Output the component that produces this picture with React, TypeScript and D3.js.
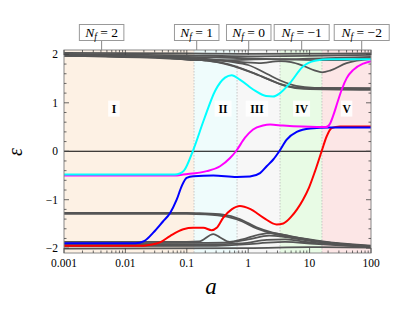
import * as d3 from 'd3';

// regions along a
const regionEdges = [0.001, 0.131, 0.658, 3.3, 15.9, 100];
const regionNames = ['I', 'II', 'III', 'IV', 'V'];
const regionColors = ['#fdf1e4', '#effcfc', '#f7f7f7', '#e8fbe5', '#fce6e6'];
const regionLabelA = [0.0065, 0.39, 1.39, 7.4, 40];
const regionLabelEps = 0.88;

// N_f boxes above the frame
const nfValues = ['2', '1', '0', '−1', '−2'];
const nfA = [0.0041, 0.145, 1.02, 7.43, 70.6];

const xTicks = [0.001, 0.01, 0.1, 1, 10, 100];
const xTickLabels = ['0.001', '0.01', '0.1', '1', '10', '100'];
const yTicks = [-2, -1, 0, 1, 2];
const yTickLabels = ['−2', '−1', '0', '1', '2'];

type Pt = [number, number];

const cyan: Pt[] = [[0.001, -0.48], [0.064, -0.48], [0.077, -0.46], [0.09, -0.4], [0.125, 0], [0.19, 0.65], [0.29, 1.25], [0.42, 1.52], [0.54, 1.57], [0.73, 1.48], [1.29, 1.25], [1.95, 1.14], [2.53, 1.13], [3.3, 1.2], [4.8, 1.41], [7.8, 1.75], [12.2, 1.87], [21.5, 1.9], [100, 1.9]];
const magenta: Pt[] = [[0.001, -0.5], [0.064, -0.5], [0.087, -0.48], [0.211, -0.41], [0.348, -0.31], [0.506, -0.14], [0.632, 0], [0.887, 0.28], [1.2, 0.45], [1.74, 0.53], [2.27, 0.55], [3.69, 0.53], [13.1, 0.5], [18.5, 0.5], [21.5, 0.57], [24.3, 0.74], [28.3, 1.0], [33.3, 1.27], [40.2, 1.51], [51.5, 1.68], [75, 1.81], [100, 1.86]];
const blue: Pt[] = [[0.001, -1.9], [0.0145, -1.9], [0.0205, -1.85], [0.0284, -1.68], [0.0409, -1.45], [0.0532, -1.28], [0.0684, -1.0], [0.0826, -0.72], [0.0995, -0.55], [0.128, -0.515], [0.27, -0.5], [0.65, -0.53], [1.07, -0.52], [1.56, -0.45], [2.0, -0.31], [2.56, -0.17], [3.21, 0], [4.24, 0.24], [6.17, 0.4], [10.2, 0.47], [21.5, 0.49], [100, 0.49]];
const red: Pt[] = [[0.001, -1.95], [0.02, -1.95], [0.0252, -1.93], [0.0366, -1.88], [0.0532, -1.75], [0.0877, -1.61], [0.128, -1.58], [0.186, -1.58], [0.254, -1.63], [0.307, -1.58], [0.393, -1.37], [0.538, -1.2], [0.734, -1.13], [1.07, -1.19], [1.76, -1.37], [2.91, -1.51], [3.73, -1.49], [5.11, -1.34], [6.24, -1.2], [7.81, -1.0], [9.78, -0.75], [12.2, -0.42], [15.7, 0], [19.0, 0.31], [22.9, 0.48], [31.3, 0.51], [100, 0.51]];

const grayLines: Pt[][] = [
  // near the top
  [[0.001, 2.03], [0.1, 2.02], [1, 2.01], [100, 2.02]],
  [[0.001, 2.01], [0.1, 1.98], [1, 1.96], [10, 1.97], [100, 1.99]],
  [[0.001, 1.99], [0.1, 1.95], [0.5, 1.93], [3, 1.9], [20, 1.92], [100, 1.95]],
  [[0.001, 1.97], [0.01, 1.96], [0.05, 1.93], [0.13, 1.88], [0.5, 1.88], [2, 1.9], [6, 1.89], [30, 1.88], [100, 1.93]],
  [[0.001, 1.98], [0.13, 1.91], [0.5, 1.86], [1.5, 1.82], [3.3, 1.86], [5, 1.84], [8, 1.76], [12, 1.67], [16, 1.63], [22, 1.67], [40, 1.82], [100, 1.9]],
  [[0.001, 1.98], [0.13, 1.9], [0.21, 1.87], [0.31, 1.84], [1.07, 1.64], [2.0, 1.5], [3.7, 1.37], [7, 1.31], [16, 1.3], [100, 1.29]],
  [[0.001, 1.97], [0.13, 1.89], [0.25, 1.86], [0.4, 1.82], [1.2, 1.62], [2.2, 1.48], [4, 1.35], [8, 1.29], [100, 1.27]],
  [[0.001, 1.99], [0.13, 1.92], [0.5, 1.85], [1.0, 1.78], [2.0, 1.6], [3.5, 1.45], [6, 1.35], [12, 1.31], [100, 1.3]],
  // -1.3 band
  [[0.001, -1.27], [0.1, -1.27], [0.16, -1.28], [0.39, -1.31], [0.73, -1.4], [1.37, -1.57], [2.5, -1.68], [4.8, -1.75], [16.5, -1.86], [59, -1.93], [100, -1.95]],
  [[0.001, -1.29], [0.1, -1.29], [0.2, -1.3], [0.45, -1.35], [0.8, -1.45], [1.4, -1.6], [2.5, -1.7], [5, -1.77], [16, -1.87], [100, -1.96]],
  // bottom cluster
  [[0.001, -1.87], [0.1, -1.87], [0.16, -1.86], [0.27, -1.71], [0.35, -1.78], [0.5, -1.87], [0.8, -1.82], [1.5, -1.72], [2.5, -1.69], [5, -1.76], [16, -1.87], [100, -1.96]],
  [[0.001, -1.9], [0.15, -1.89], [0.5, -1.88], [1, -1.82], [2.2, -1.74], [4, -1.77], [10, -1.85], [40, -1.93], [100, -1.97]],
  [[0.001, -1.93], [0.2, -1.92], [0.8, -1.9], [2, -1.83], [4, -1.82], [10, -1.88], [100, -1.97]],
  [[0.001, -1.96], [0.3, -1.95], [1.5, -1.9], [4, -1.87], [12, -1.91], [100, -1.98]],
  [[0.001, -2.01], [1, -2.0], [10, -1.98], [100, -1.99]],
];

const colored: { pts: Pt[]; color: string }[] = [
  { pts: red, color: '#ff0000' },
  { pts: blue, color: '#0000ff' },
  { pts: magenta, color: '#ff00ff' },
  { pts: cyan, color: '#00ffff' },
];

const W = 415;
const H = 319;
const left = 64;
const right = 371;
const top = 50;
const bottom = 253;
const serif = "'Liberation Serif', 'Times New Roman', serif";
const txt = { fontFamily: serif };

export default function App() {
  const x = d3.scaleLog().domain([0.001, 100]).range([left, right]);
  const y = d3.scaleLinear().domain([-2.1, 2.09]).range([bottom, top]);
  const line = d3
    .line<Pt>()
    .x((d) => x(d[0]))
    .y((d) => y(d[1]))
    .curve(d3.curveMonotoneX);

  const minorX: number[] = [];
  for (let e = -3; e < 2; e++) {
    for (let k = 2; k <= 9; k++) minorX.push(k * Math.pow(10, e));
  }
  const minorY = d3.range(-2, 2.01, 0.2).filter((v) => Math.abs(v - Math.round(v)) > 0.01);

  return (
    <svg width={W} height={H} style={{ position: 'absolute', left: 0, top: 0 }}>
      <defs>
        <clipPath id="plot">
          <rect x={left} y={top} width={right - left} height={bottom - top} />
        </clipPath>
      </defs>
      {regionNames.map((n, i) => (
        <rect key={n} x={x(regionEdges[i])} y={top} width={x(regionEdges[i + 1]) - x(regionEdges[i])} height={bottom - top} fill={regionColors[i]} />
      ))}
      {regionEdges.slice(1, -1).map((a) => (
        <line key={a} x1={x(a)} x2={x(a)} y1={top} y2={bottom} stroke="#bbb" strokeWidth={0.8} strokeDasharray="1.5,1.5" />
      ))}
      <line x1={left} x2={right} y1={y(0)} y2={y(0)} stroke="#000" strokeWidth={1} />
      {regionNames.map((n, i) => {
        const w = n.length * 5.5 + 6;
        return (
          <g key={'l' + n}>
            <rect x={x(regionLabelA[i]) - w / 2} y={y(regionLabelEps) - 8} width={w} height={16} fill="#fff" opacity={0.85} />
            <text x={x(regionLabelA[i])} y={y(regionLabelEps) + 4} textAnchor="middle" fontSize={11.5} fontWeight="bold" style={txt}>
              {n}
            </text>
          </g>
        );
      })}
      <g clipPath="url(#plot)" fill="none" strokeLinejoin="round">
        {grayLines.map((g, i) => (
          <path key={i} d={line(g) ?? undefined} stroke="#555" strokeWidth={1.8} />
        ))}
        {colored.map((c) => (
          <path key={c.color} d={line(c.pts) ?? undefined} stroke={c.color} strokeWidth={2} />
        ))}
      </g>
      <rect x={left} y={top} width={right - left} height={bottom - top} fill="none" stroke="#888" strokeWidth={1} />
      <g stroke="#444" strokeWidth={0.8}>
        {xTicks.map((t) => (
          <g key={t}>
            <line x1={x(t)} x2={x(t)} y1={bottom} y2={bottom - 5} />
            <line x1={x(t)} x2={x(t)} y1={top} y2={top + 5} />
          </g>
        ))}
        {minorX.map((t) => (
          <g key={t}>
            <line x1={x(t)} x2={x(t)} y1={bottom} y2={bottom - 2.5} />
            <line x1={x(t)} x2={x(t)} y1={top} y2={top + 2.5} />
          </g>
        ))}
        {yTicks.map((t) => (
          <g key={t}>
            <line x1={left} x2={left + 5} y1={y(t)} y2={y(t)} />
            <line x1={right} x2={right - 5} y1={y(t)} y2={y(t)} />
          </g>
        ))}
        {minorY.map((t) => (
          <g key={t}>
            <line x1={left} x2={left + 2.5} y1={y(t)} y2={y(t)} />
            <line x1={right} x2={right - 2.5} y1={y(t)} y2={y(t)} />
          </g>
        ))}
      </g>
      {xTicks.map((t, i) => (
        <text key={t} x={x(t)} y={bottom + 14} textAnchor="middle" fontSize={11.5} style={txt}>
          {xTickLabels[i]}
        </text>
      ))}
      {yTicks.map((t, i) => (
        <text key={t} x={left - 6} y={y(t) + 4} textAnchor="end" fontSize={11.5} style={txt}>
          {yTickLabels[i]}
        </text>
      ))}
      {nfValues.map((v, i) => {
        const cx = x(nfA[i]);
        const w = v.startsWith('−') ? 55 : 44.5;
        return (
          <g key={v}>
            <line x1={cx} x2={cx} y1={40} y2={top} stroke="#888" strokeWidth={1} />
            <rect x={cx - w / 2} y={24.5} width={w} height={16} fill="#fff" stroke="#999" strokeWidth={1} />
            <text x={cx} y={37} textAnchor="middle" fontSize={13.5} style={txt}>
              <tspan fontStyle="italic">N</tspan>
              <tspan fontStyle="italic" fontSize={9.5} dy={3}>f</tspan>
              <tspan dy={-3}>{' = ' + v}</tspan>
            </text>
          </g>
        );
      })}
      <text x={211} y={294} textAnchor="middle" fontSize={23} fontStyle="italic" style={txt}>
        a
      </text>
      <text transform="translate(22,152) rotate(-90)" textAnchor="middle" fontSize={20} fontStyle="italic" style={txt}>
        ε
      </text>
    </svg>
  );
}
